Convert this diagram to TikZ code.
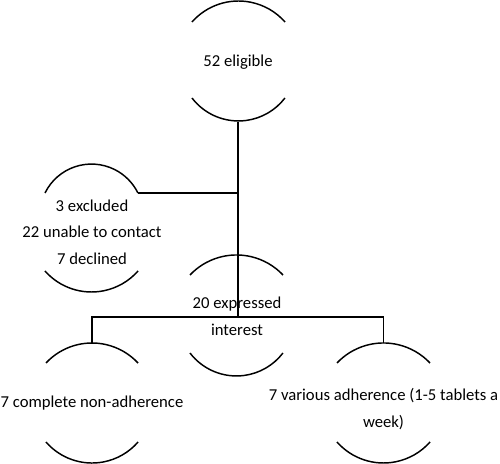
\documentclass[tikz,border=0pt]{standalone}
\usepackage{fontspec}
\setmainfont{Carlito}
\begin{document}
\begin{tikzpicture}[x=0.75pt,y=0.75pt,
  bubble/.style={rectangle, minimum height=90pt, inner sep=0pt, align=center,
    font=\fontsize{12.5}{20}\selectfont},
  rim/.style={draw=black, line width=1.1pt},
  link/.style={draw=black, line width=1.1pt}]
\useasboundingbox[fill=white] (0,0) rectangle (500,464);

% nodes (bubble centres)
\node[bubble] (elig)  at (238,402) {52 eligible};
\node[bubble] (excl)  at (92,232)  {3 excluded\\22 unable to contact\\7 declined};
\node[bubble] (expr)  at (237,148) {20 expressed\\interest};
\node[bubble] (nonad) at (92,61)   {7 complete non-adherence};
\node[bubble, minimum height=99pt] (varad) at (383.5,55) {7 various adherence (1-5 tablets a\\week)};

% partial outlines (top and bottom arcs)
\draw[rim] (192,442) arc[start angle=138.6, end angle=41.4, radius=62];
\draw[rim] (192,366) arc[start angle=217.4, end angle=322.6, radius=58.5];

\draw[rim] (45,271) arc[start angle=153.8, end angle=26.2, radius=51.8] coordinate (exclTR);
\draw[rim] (45,193) arc[start angle=221.4, end angle=318.6, radius=62];

\draw[rim] (190,189) arc[start angle=136.6, end angle=43.4, radius=64];
\draw[rim] (190,111) arc[start angle=217.4, end angle=322.6, radius=58.5];

\draw[rim] (46,101) arc[start angle=137, end angle=43, radius=62.9];
\draw[rim] (46,22) arc[start angle=220.9, end angle=319.1, radius=60.9];

\draw[rim] (337,101) arc[start angle=136.6, end angle=43.4, radius=64];
\draw[rim] (337,22) arc[start angle=221.4, end angle=318.6, radius=62];

% connectors
\coordinate (split) at (238,147);
\draw[link] (elig.south) -- (split);
\draw[link] (exclTR) -- (exclTR -| elig.south);
\draw[link] (nonad.north) |- (split) -| (varad.north);
\end{tikzpicture}
\end{document}
